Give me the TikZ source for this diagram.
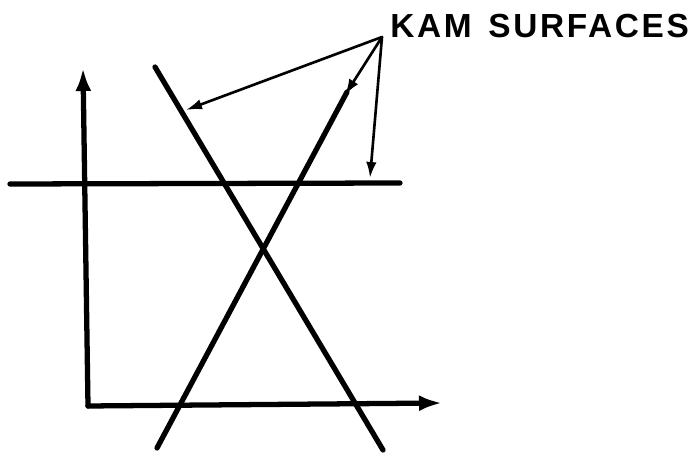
\documentclass[tikz,border=0pt]{standalone}
\usepackage{fontspec}
\setmainfont{Liberation Sans}
\usetikzlibrary{arrows.meta,positioning}

\begin{document}
\begin{tikzpicture}[>={Latex[length=3.2mm,width=2.1mm]}, line cap=round]
    \useasboundingbox (0,0) rectangle (13.96,9.12);
    \tikzset{
        surface/.style={line width=3pt},
        axis/.style={line width=3pt, -{Latex[length=4.6mm,width=3.2mm]}},
        pointer/.style={line width=1.5pt, ->}
    }

    % 坐标轴
    \coordinate (O) at (1.76,1.00);
    \coordinate (Ytop) at (1.66,7.76);
    \coordinate (Xend) at (8.84,1.06);
    \draw[axis] (O) -- (Ytop);
    \draw[axis] (O) -- (Xend);

    % 三条 KAM 面
    \coordinate (H1) at (0.20,5.44);
    \coordinate (H2) at (8.00,5.46);
    \coordinate (D1) at (3.10,7.78);
    \coordinate (D2) at (7.66,0.12);
    \coordinate (A1) at (3.14,0.16);
    \coordinate (A2) at (6.94,7.28);
    \draw[surface] (H1) -- (H2);
    \draw[surface] (D1) -- (D2);
    \draw[surface] (A1) -- (A2);

    % 标注
    \coordinate (P) at (7.64,8.38);
    \node[above right=-0.02cm and 0.16cm of P, inner sep=0pt,
          font=\fontsize{19}{22}\selectfont\bfseries\addfontfeature{LetterSpace=8}]
          (kam) {KAM\enspace SURFACES};

    % 指向各面的箭头
    \coordinate (T1) at (3.72,6.92);
    \coordinate (T2) at (6.90,7.22);
    \coordinate (T3) at (7.40,5.56);
    \draw[pointer] (P) -- (T1);
    \draw[pointer] (P) -- (T2);
    \draw[pointer] (P) -- (T3);
\end{tikzpicture}
\end{document}
